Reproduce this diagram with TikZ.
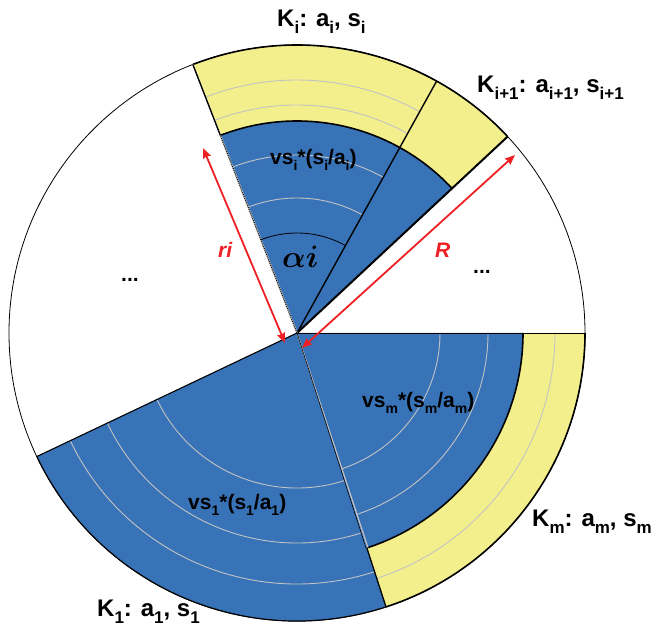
\RequirePackage{fix-cm}
\documentclass[tikz,border=0pt]{standalone}
\usepackage{fontspec}
\setmainfont{Liberation Sans}
\usetikzlibrary{calc,arrows.meta}
\definecolor{secblue}{RGB}{56,115,184}
\definecolor{secyellow}{RGB}{243,239,140}
\definecolor{ringgrey}{RGB}{195,195,195}
\definecolor{arrred}{RGB}{238,32,36}
\newcommand\sbK[1]{\raisebox{-7pt}{\fontsize{17}{17}\selectfont #1}}
\newcommand\sbV[1]{\raisebox{-6pt}{\fontsize{14}{14}\selectfont #1}}
\newcommand\wedgefill[4]{% colour, a1, a2, r
  \fill[#1] (C) -- ($(C)+(#2:#4)$) arc[start angle=#2,end angle=#3,radius=#4] -- cycle;}
\newcommand\ringfill[5]{% colour, a1, a2, r1, r2
  \fill[#1] ($(C)+(#2:#4)$) arc[start angle=#2,end angle=#3,radius=#4] -- ($(C)+(#3:#5)$) arc[start angle=#3,end angle=#2,radius=#5] -- cycle;}
\newcommand\arcat[5][]{% style, a1, a2, r
  \draw[#2,#1] ($(C)+(#3:#5)$) arc[start angle=#3,end angle=#4,radius=#5];}
\tikzset{
  gridarc/.style={ringgrey,line width=0.9pt},
  thickedge/.style={black,line width=1.6pt},
  thinedge/.style={black,line width=0.8pt},
  klabel/.style={font=\fontsize{24}{24}\selectfont\bfseries,anchor=base west,inner sep=0pt},
  vlabel/.style={font=\fontsize{21}{21}\selectfont\bfseries,anchor=base west,inner sep=0pt},
  rlabel/.style={font=\fontsize{21}{21}\selectfont\bfseries\itshape,text=arrred,anchor=base west,inner sep=0pt},
  dimarrow/.style={arrred,line width=1.8pt,{Stealth[length=10pt,width=8pt,inset=1pt]}-{Stealth[length=10pt,width=8pt,inset=1pt]}},
}
\begin{document}
\begin{tikzpicture}[x=1pt,y=1pt]
\useasboundingbox (0,0) rectangle (654,627);
\fill[white] (0,0) rectangle (654,627);
\coordinate (C) at (297,294);
% outer circle
\draw[black,line width=0.8pt] (C) circle[radius=288];
% K_1 sector
\wedgefill{secblue}{-154.6}{-72}{288}
\arcat{gridarc}{-154.6}{-72}{155}
\arcat{gridarc}{-154.6}{-72}{210}
\arcat{gridarc}{-154.6}{-72}{251}
% K_m sector
\wedgefill{secblue}{-72}{0}{226}
\ringfill{secyellow}{-72}{0}{226}{288}
\arcat{gridarc}{-72}{0}{143}
\arcat{gridarc}{-72}{0}{191}
\arcat{gridarc}{-72}{0}{258}
% K_i sector
\wedgefill{secblue}{61}{111.2}{212}
\ringfill{secyellow}{61}{111.2}{212}{288}
\arcat{gridarc}{61}{111.2}{135}
\arcat{gridarc}{61}{111.2}{178}
\arcat{gridarc}{61}{111.2}{228}
\arcat{gridarc}{61}{111.2}{253}
% K_{i+1} sector
\wedgefill{secblue}{43}{61}{212}
\ringfill{secyellow}{43}{61}{212}{288}
% outlines
\arcat{thickedge}{43}{111.2}{288}
\arcat{thickedge}{43}{111.2}{212}
\draw[thickedge,line width=1.4pt] (C) -- ($(C)+(61:288)$);
\draw[thickedge,line width=2pt] (C) -- ($(C)+(43:288)$);
\draw[ringgrey,line width=1.6pt] (C) -- ($(C)+(111.2:288)$);
\draw[black,line width=0.9pt,dash pattern=on 1pt off 1pt] (C) -- ($(C)+(111.2:288)$);
\draw[thickedge,line width=1.2pt] ($(C)+(111.2:212)$) -- ($(C)+(111.2:288)$);
\arcat{thickedge}{-72}{0}{288}
\arcat{thickedge}{-72}{0}{226}
\draw[thinedge] (C) -- ($(C)+(0:288)$);
\draw[ringgrey,line width=1.2pt] ($(C)+(-71.7:1)$) -- ($(C)+(-71.7:226)$);
\draw[black,line width=0.6pt] ($(C)+(-72.2:1)$) -- ($(C)+(-72.2:226)$);
\draw[thickedge,line width=1.3pt] ($(C)+(-72:226)$) -- ($(C)+(-72:288)$);
\arcat{thickedge,line width=1.2pt}{-154.6}{-72}{288}
\draw[thickedge,line width=1.1pt] (C) -- ($(C)+(-154.6:288)$);
% angle arc
\arcat{black,line width=0.8pt}{61}{111.2}{100}
% dimension arrows
\coordinate (Ra) at (302,279);
\coordinate (Rb) at (515,472);
\coordinate (ria) at (285,284);
\coordinate (rib) at (203,479);
\draw[dimarrow] (Ra) -- (Rb);
\draw[dimarrow] (ria) -- (rib);
% labels
\node[klabel] (lKi) at (277,600) {K\sbK{i}: a\sbK{i}, s\sbK{i}};
\node[klabel] (lKip) at (477,534) {K\sbK{i+1}: a\sbK{i+1}, s\sbK{i+1}};
\node[klabel] (lKm) at (532,100) {K\sbK{m}: a\sbK{m}, s\sbK{m}};
\node[klabel] (lK1) at (97,10) {K\sbK{1}: a\sbK{1}, s\sbK{1}};
\node[vlabel] (lvi) at (270,462) {vs\sbV{i}*(s\sbV{i}/a\sbV{i})};
\node[vlabel] (lvm) at (362,219) {vs\sbV{m}*(s\sbV{m}/a\sbV{m})};
\node[vlabel] (lv1) at (188,117) {vs\sbV{1}*(s\sbV{1}/a\sbV{1})};
\node[rlabel] (lri) at (218,369) {ri};
\node[rlabel] (lR) at (435,369) {R};
\node[vlabel] (ldots1) at (121,345) {...};
\node[vlabel] (ldots2) at (473,353) {...};
\node[anchor=base west,inner sep=0pt,font=\fontsize{31}{31}\selectfont\boldmath] (lalpha) at (282,359) {$\alpha i$};
\end{tikzpicture}
\end{document}
